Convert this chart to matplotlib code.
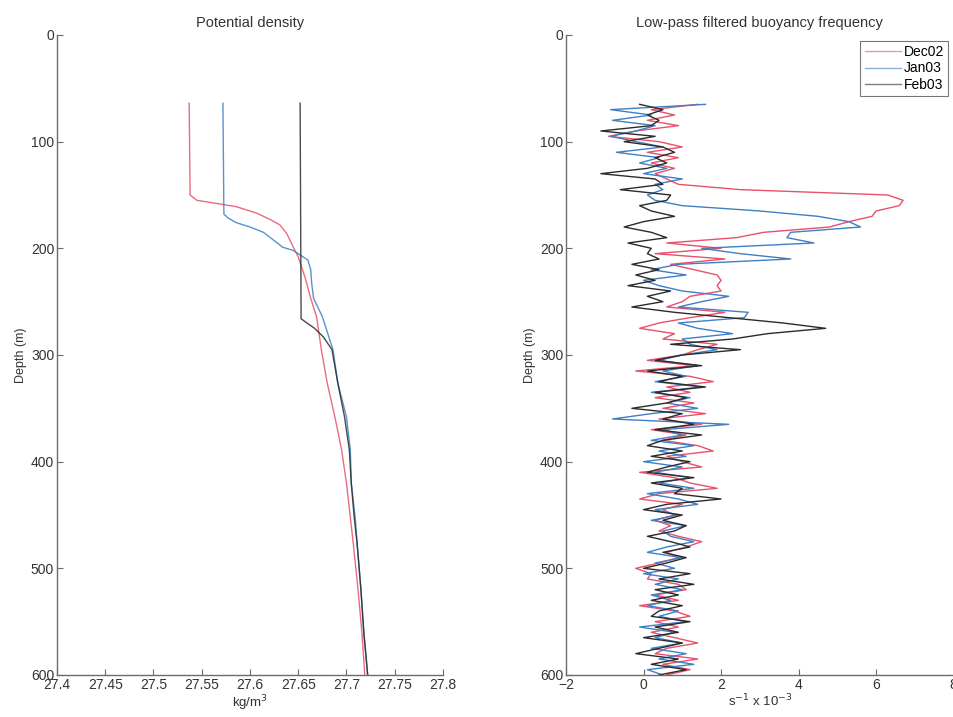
import numpy as np
import matplotlib
matplotlib.use('Agg')
import matplotlib.pyplot as plt

plt.rcParams['font.family'] = ['Liberation Sans', 'DejaVu Sans']

# Potential density profiles (depth in m, sigma in kg/m^3)
dec_rho_depth = [64, 150, 155, 158, 161, 167, 173, 178, 186, 199, 208, 227, 247,
                 264, 295, 326, 358, 389, 420, 452, 476, 520, 560, 600]
dec_rho = [27.537, 27.538, 27.545, 27.566, 27.586, 27.607, 27.621, 27.631, 27.638,
           27.645, 27.650, 27.657, 27.663, 27.669, 27.674, 27.680, 27.688, 27.695,
           27.700, 27.704, 27.707, 27.712, 27.716, 27.719]

jan_rho_depth = [64, 168, 172, 176, 180, 185, 192, 199, 202, 208, 211, 220, 233, 247,
                 264, 295, 326, 358, 389, 420, 452, 476, 520, 560, 600]
jan_rho = [27.572, 27.573, 27.578, 27.586, 27.600, 27.614, 27.624, 27.634, 27.645,
           27.655, 27.660, 27.663, 27.664, 27.666, 27.675, 27.686, 27.691, 27.700,
           27.704, 27.705, 27.709, 27.711, 27.715, 27.718, 27.722]

feb_rho_depth = [64, 266, 270, 275, 283, 295, 326, 358, 389, 420, 452, 476, 520, 560, 600]
feb_rho = [27.652, 27.653, 27.659, 27.667, 27.676, 27.685, 27.691, 27.698, 27.703,
           27.705, 27.708, 27.711, 27.715, 27.718, 27.722]

# Low-pass filtered N (s^-1 x 1e-3), sampled every 5 m from 65 to 600 m
n_depth = np.arange(65, 601, 5)

dec_n = [1.4, 0.2, 0.8, 0.1, 0.9, -0.2, -0.9, 0.4, 1.0, 0.1, 0.9, 0.2, 0.8, 0.3, 0.6, 0.9, 2.5,
         6.3, 6.7, 6.6, 6.0, 5.9, 5.3, 4.8, 3.1, 2.4, 0.6,
         2.0, 0.3, 2.1, 0.7, 1.3, 1.9, 2.0, 1.9, 2.0, 1.2,
         1.0, 0.6, 2.1, 1.2, 0.4, -0.1, 0.8, 0.5, 1.9, 1.4,
         1.0,
         0.1, 1.3, -0.2, 1.2, 1.8, 0.6, 1.2, 0.3, 1.3, 0.5,
         1.6, 0.4, 1.5, 0.2, 1.1, 0.5, 1.4, 1.8, 0.6, 1.0,
         1.5, -0.1, 0.8, 1.2, 1.9, 0.4, -0.1, 1.0, 0.5, 0.8,
         0.3, 0.7, 0.4, 0.9, 1.5, 1.1, 0.6, 0.9, 0.4, -0.2,
         0.2, 0.1, 0.9, 1.1, 0.3, 0.9, -0.1, 0.8, 1.2, 0.3,
         0.9, 0.2, 0.8, 1.4, 0.6, 0.3, 1.4, 0.5, 1.2, 0.6]

jan_n = [1.6, -0.85, 0.2, -0.8, 0.3, -0.2, -0.85, -0.2, 0.5, -0.7, 0.4, -0.1, 0.6, 0.0, 1.0, 0.3, 0.5,
         0.1, 0.3, 1.0, 3.0, 4.5, 5.3, 5.6, 3.8, 3.7, 4.4,
         1.5, 2.5, 3.8, 0.9, 0.2, 1.1, 0.0, 0.4, 1.0, 2.2,
         1.5, 0.9, 2.7, 2.6, 0.9, 1.4, 2.3, 1.0, 1.2, 1.9,
         1.0,
         0.4, 1.4, 0.5, 1.1, 0.3, 1.5, 0.2, 1.2, 0.6, 1.4,
         0.2, -0.8, 2.2, 0.5, 1.0, 0.2, 1.3, 0.4, 1.1, 0.0,
         1.0, 0.3, 1.2, 0.4, 1.3, 0.1, 0.9, 1.4, 0.3, 0.9,
         0.2, 1.1, 0.5, 0.7, 1.3, 0.6, 0.1, 1.0, 0.3, 0.8,
         0.0, 0.9, 0.3, 1.0, 0.2, 0.7, 0.1, 0.9, 0.4, 1.1,
         -0.1, 0.8, 0.3, 1.0, 0.2, 1.1, 0.4, 1.3, 0.1, 0.5]

feb_n = [-0.1, 0.5, 0.1, 0.4, 0.2, -1.1, 0.3, -0.5, 0.5, 0.8, 0.3, 0.6, 0.1, -1.1, 0.3, 0.5, -0.6,
         0.7, 0.6, -0.1, 0.2, 0.8, 0.0, -0.5, 0.2, 0.6, -0.4,
         0.2, 0.1, 0.4, -0.3, 0.4, -0.2, 0.3, -0.4, 0.7, 0.1,
         0.5, -0.3, 0.8, 2.2, 3.6, 4.7, 3.2, 2.3, 0.7, 2.5,
         1.0,
         0.3, 1.5, 0.1, 1.0, 0.4, 1.6, 0.3, 1.1, 0.6, -0.3,
         1.0, 0.5, 1.3, 0.3, 1.5, 0.5, 0.1, 1.0, 0.2, 1.2,
         0.6, 0.1, 1.3, 0.2, 1.0, 0.8, 2.0, 0.6, 0.0, 1.0,
         0.5, 1.1, 0.8, 0.1, 0.7, 1.2, 0.5, 1.1, 0.6, 0.0,
         1.2, 0.4, 1.3, 0.3, 0.9, 0.2, 1.0, 0.4, 0.2, 1.2,
         0.3, 0.9, 0.0, 1.0, 0.4, -0.2, 0.9, 0.2, 1.1, 0.4]

month_labels = ['Dec02', 'Jan03', 'Feb03']
colors = ['#e9506b', '#3f7fc4', '#2b2b2b']

fig = plt.figure(figsize=(9.54, 7.17), dpi=100)
ax1 = fig.add_axes([0.0597, 0.0586, 0.4046, 0.8926])
ax2 = fig.add_axes([0.5933, 0.0586, 0.4062, 0.8926])


def style_axis(ax):
    for side in ['top', 'right']:
        ax.spines[side].set_visible(False)
    for side in ['left', 'bottom']:
        ax.spines[side].set_color('#6b6b6b')
        ax.spines[side].set_linewidth(1.0)
    ax.tick_params(direction='in', length=4, width=0.8, color='#6b6b6b',
                   labelsize=10, labelcolor='#333333', pad=2)
    ax.set_ylim(600, 0)
    ax.set_yticks([0, 100, 200, 300, 400, 500, 600])
    ax.set_ylabel('Depth (m)', fontsize=9, color='#333333', labelpad=3)


# left: potential density
for d, r, c in zip([dec_rho_depth, jan_rho_depth, feb_rho_depth],
                   [dec_rho, jan_rho, feb_rho], colors):
    ax1.plot(r, d, color=c, lw=1.0, alpha=0.85)
style_axis(ax1)
ax1.set_xlim(27.4, 27.8)
ax1.set_xticks([27.4, 27.45, 27.5, 27.55, 27.6, 27.65, 27.7, 27.75, 27.8])
ax1.set_xticklabels(['27.4', '27.45', '27.5', '27.55', '27.6', '27.65', '27.7', '27.75', '27.8'])
ax1.set_xlabel('kg/m$^3$', fontsize=9.5, color='#333333', labelpad=1)
ax1.set_title('Potential density', fontsize=10.5, color='#333333', pad=6)

# right: buoyancy frequency
for vals, c, lab in zip([dec_n, jan_n, feb_n], colors, month_labels):
    ax2.plot(vals, n_depth, color=c, lw=1.0, label=lab)
style_axis(ax2)
ax2.set_xlim(-2, 8)
ax2.set_xticks([-2, 0, 2, 4, 6, 8])
ax2.set_xlabel('s$^{-1}$ x 10$^{-3}$', fontsize=9.5, color='#333333', labelpad=1)
ax2.set_title('Low-pass filtered buoyancy frequency', fontsize=10.5, color='#333333', pad=6)
leg = ax2.legend(loc='upper right', fontsize=10, frameon=True, fancybox=False,
                 handlelength=2.6, handletextpad=0.2, borderpad=0.3,
                 labelspacing=0.2, borderaxespad=0.4)
leg.get_frame().set_edgecolor('#555555')
leg.get_frame().set_linewidth(0.8)
for h in leg.get_lines():
    h.set_alpha(0.6)

fig.savefig('out.png', dpi=100, facecolor='white')
